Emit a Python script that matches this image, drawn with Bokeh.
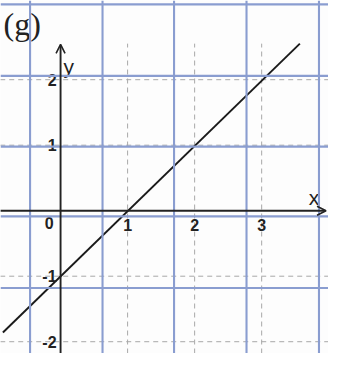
from bokeh.plotting import figure
from bokeh.models import Span, Arrow, OpenHead, Range1d
from bokeh.core.properties import value
from bokeh.embed import file_html
from bokeh.resources import INLINE

# data
line_x = [-0.86, 3.57]
line_y = [-1.86, 2.55]

x_ticks = [1, 2, 3]
x_tick_labels = ["1", "2", "3"]
y_ticks = [2, 1, -1, -2]
y_tick_labels = ["2", "1", "-1", "-2"]

# printed paper grid (blue) positions in data units
paper_x = [-0.455, 0.626, 1.693, 2.774, 3.855]
paper_y = [3.15, 2.058, 0.978, -0.086, -1.18]

S = 328 / 344.0
Y0 = -2.18

p = figure(width=328, height=353, output_backend="svg", toolbar_location=None,
           x_range=Range1d(-0.896, 3.997), y_range=Range1d(Y0, 3.209),
           x_axis_location=None, y_axis_location=None, min_border=0)
p.grid.visible = False
p.outline_line_color = None
p.background_fill_color = "#fdfdfd"
p.border_fill_color = "#fdfdfd"

for xv in paper_x:
    p.add_layout(Span(location=xv, dimension="height", line_color="#8a9dd0", line_width=2.2 * S))
for yv in paper_y:
    p.add_layout(Span(location=yv, dimension="width", line_color="#8a9dd0", line_width=2.2 * S))

# dashed integer grid
p.segment(x0=x_ticks, y0=[Y0] * 3, x1=x_ticks, y1=[2.55] * 3,
          line_color="#a8a8a8", line_width=1, line_dash="5 4")
p.segment(x0=[-0.9] * 4, y0=y_ticks, x1=[4.0] * 4, y1=y_ticks,
          line_color="#a8a8a8", line_width=1, line_dash="5 4")

# axes with arrows
p.add_layout(Arrow(x_start=-0.9, y_start=0, x_end=3.96, y_end=0, line_color="#222222",
                   line_width=2 * S, end=OpenHead(size=9, line_width=1.6, line_color="#222222")))
p.add_layout(Arrow(x_start=0, y_start=Y0, x_end=0, y_end=2.54, line_color="#222222",
                   line_width=2 * S, end=OpenHead(size=9, line_width=1.6, line_color="#222222")))

# the line
p.line(line_x, line_y, line_color="#1a1a1a", line_width=2 * S)

font = value("Liberation Sans")
p.text(x=x_ticks, y=[0] * 3, text=x_tick_labels, text_font=font, text_font_size="16px",
       text_font_style="bold", text_align="center", text_baseline="top", y_offset=8,
       text_color="#222222")
p.text(x=[0], y=[0], text=["0"], text_font=font, text_font_size="16px",
       text_font_style="bold", text_align="right", text_baseline="top", x_offset=-7, y_offset=6,
       text_color="#222222")
p.text(x=[0] * 4, y=y_ticks, text=y_tick_labels, text_font=font, text_font_size="16px",
       text_font_style="bold", text_align="right", text_baseline="middle", x_offset=-4, y_offset=0,
       text_color="#222222")
p.text(x=[3.78], y=[0], text=["x"], text_font=font, text_font_size="21px",
       text_align="center", text_baseline="bottom", y_offset=-2, text_color="#222222")
p.text(x=[0], y=[2.2], text=["y"], text_font=font, text_font_size="21px",
       text_align="left", text_baseline="middle", x_offset=3, text_color="#222222")
p.text(x=[-0.896], y=[3.209], text=["(g)"], text_font=value("Liberation Serif"),
       text_font_size="32px", text_align="left", text_baseline="top", x_offset=3, y_offset=5,
       text_color="#222222")

open("out.html", "w").write(file_html(p, INLINE))
